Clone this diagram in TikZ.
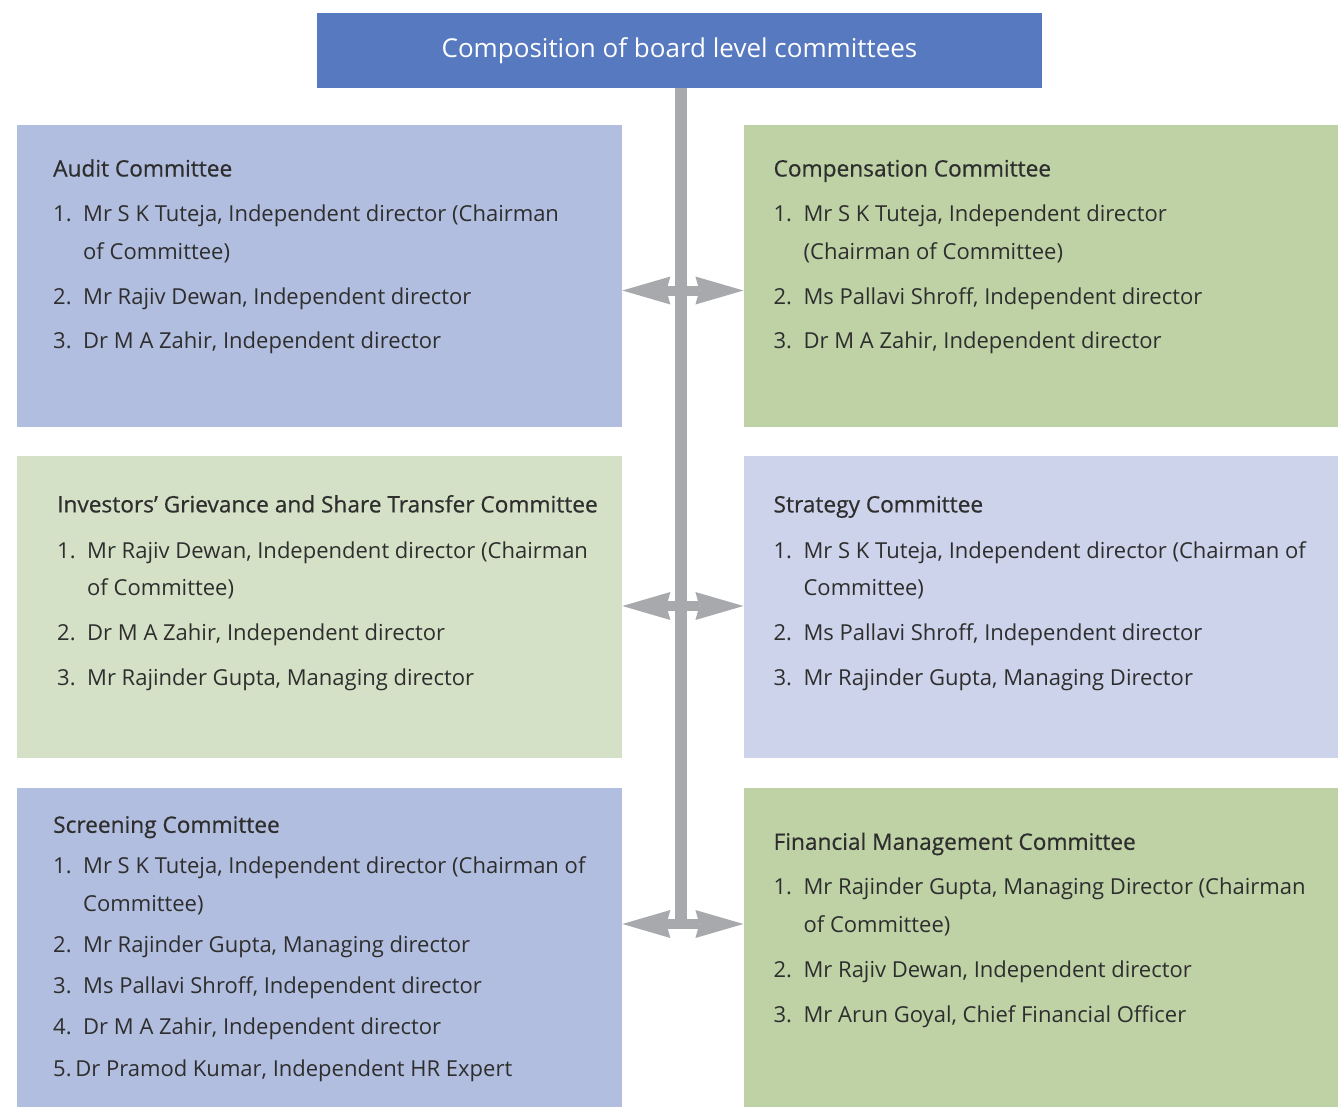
\documentclass[tikz,border=0pt]{standalone}
\usepackage{fontspec}
\setmainfont{Open Sans}
\newfontfamily\headfont[FakeBold=0.6,Scale=1.03]{Open Sans}
\usepackage{tikz}
\usetikzlibrary{arrows.meta,positioning}
\definecolor{titleblue}{HTML}{5779BF}
\definecolor{boxblue}{HTML}{B2BEDF}
\definecolor{boxlilac}{HTML}{CDD3EB}
\definecolor{boxgreen}{HTML}{BED2A6}
\definecolor{boxpale}{HTML}{D5E1C6}
\definecolor{bargray}{HTML}{A7A9AC}
\definecolor{ink}{HTML}{2E2E2E}
\tikzstyle{titlebox} = [rectangle, fill=titleblue, text=white, inner sep=0pt, minimum width=725pt, minimum height=75pt, font=\fontsize{26}{30}\selectfont]
\tikzstyle{box} = [rectangle, inner sep=0pt, minimum width=605pt, minimum height=302pt]
\tikzstyle{rbox} = [box, minimum width=595pt]
\tikzstyle{members} = [anchor=base west, inner sep=0pt, text=ink, font=\fontsize{22}{37.5}\selectfont]
\tikzstyle{spine} = [line width=12pt, draw=bargray]
\tikzstyle{link} = [line width=10pt, draw=bargray, {Stealth[length=48pt,width=28pt,inset=4pt,line width=0pt]}-{Stealth[length=48pt,width=28pt,inset=4pt,line width=0pt]}]

\begin{document}
\begin{tikzpicture}[x=1pt, y=-1pt]
    \useasboundingbox (0,0) rectangle (1338,1106);

    \node (title) [titlebox] at (679.5,50.5) {Composition of board level committees};

    % committee boxes, two per row
    \node (audit) [box, fill=boxblue, anchor=north west] at (17,125) {};
    \node (comp) [rbox, fill=boxgreen, right=121pt of audit] {};
    \node (investors) [box, fill=boxpale, below=28pt of audit] {};
    \node (strategy) [rbox, fill=boxlilac, below=28pt of comp] {};
    \node (screening) [box, fill=boxblue, minimum height=319pt, below=30pt of investors] {};
    \node (financial) [rbox, fill=boxgreen, minimum height=319pt, below=30pt of strategy] {};

    \node (audit_list) [members] at ([shift={(36,51.5)}]audit.north west) {\begin{tabular}[t]{@{}p{30pt}@{}l@{}}
        \multicolumn{2}{@{}l@{}}{\headfont Audit Committee}\\[7.5pt]
        1. & Mr\ S\ K\ Tuteja, Independent director (Chairman\\
           & of Committee)\\[8pt]
        2. & Mr Rajiv Dewan, Independent director\\[6.5pt]
        3. & Dr M A Zahir, Independent director
    \end{tabular}};
    \node (comp_list) [members] at ([shift={(30,51.5)}]comp.north west) {\begin{tabular}[t]{@{}p{30pt}@{}l@{}}
        \multicolumn{2}{@{}l@{}}{\headfont Compensation Committee}\\[7.5pt]
        1. & Mr S K Tuteja, Independent director\\
           & (Chairman of Committee)\\[8pt]
        2. & Ms Pallavi Shroff, Independent director\\[6.5pt]
        3. & Dr M A Zahir, Independent director
    \end{tabular}};
    \node (investors_list) [members] at ([shift={(40,57)}]investors.north west) {\begin{tabular}[t]{@{}p{30pt}@{}l@{}}
        \multicolumn{2}{@{}l@{}}{\headfont Investors’ Grievance and Share Transfer Committee}\\[8.5pt]
        1. & Mr Rajiv Dewan, Independent director (Chairman\\
           & of Committee)\\[7.5pt]
        2. & Dr M A Zahir, Independent director\\[7.5pt]
        3. & Mr Rajinder Gupta, Managing director
    \end{tabular}};
    \node (strategy_list) [members] at ([shift={(30,57)}]strategy.north west) {\begin{tabular}[t]{@{}p{30pt}@{}l@{}}
        \multicolumn{2}{@{}l@{}}{\headfont Strategy Committee}\\[8.5pt]
        1. & Mr S K Tuteja, Independent director (Chairman of\\
           & Committee)\\[7.5pt]
        2. & Ms Pallavi Shroff, Independent director\\[7.5pt]
        3. & Mr Rajinder Gupta, Managing Director
    \end{tabular}};
    \node (screening_list) [members] at ([shift={(36,45)}]screening.north west) {\begin{tabular}[t]{@{}p{30pt}@{}l@{}}
        \multicolumn{2}{@{}l@{}}{\headfont Screening Committee}\\[3.5pt]
        1. & Mr\ S\ K\ Tuteja,\ Independent director (Chairman of\\
           & Committee)\\[4pt]
        2. & Mr Rajinder Gupta, Managing director\\[3.5pt]
        3. & Ms Pallavi Shroff, Independent director\\[3.5pt]
        4. & Dr M A Zahir, Independent director\\[4pt]
        \multicolumn{2}{@{}l@{}}{5.\,Dr Pramod Kumar, Independent HR Expert}
    \end{tabular}};
    \node (financial_list) [members] at ([shift={(30,62)}]financial.north west) {\begin{tabular}[t]{@{}p{30pt}@{}l@{}}
        \multicolumn{2}{@{}l@{}}{\headfont Financial Management Committee}\\[7.5pt]
        1. & Mr Rajinder Gupta, Managing Director (Chairman\\
           & of Committee)\\[7.5pt]
        2. & Mr Rajiv Dewan, Independent director\\[7.5pt]
        3. & Mr Arun Goyal, Chief Financial Officer
    \end{tabular}};

    % the spine and its two-way links
    \coordinate (j1) at (681,290.5);
    \coordinate (j2) at (681,606);
    \coordinate (j3) at (681,924);
    \draw [spine] (j1 |- title.south) -- (j3);
    \draw [link] (audit.east |- j1) -- (comp.west |- j1);
    \draw [link] (investors.east |- j2) -- (strategy.west |- j2);
    \draw [link] (screening.east |- j3) -- (financial.west |- j3);
\end{tikzpicture}
\end{document}
